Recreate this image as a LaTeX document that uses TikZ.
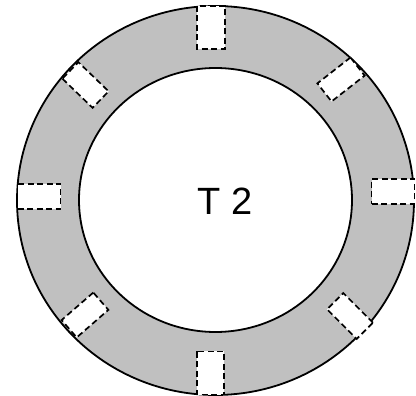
\documentclass[tikz,border=0pt]{standalone}
\usepackage{fontspec}
\setmainfont{Liberation Sans}
\usetikzlibrary{shapes.geometric}
\definecolor{ringgray}{HTML}{C0C0C0}
\tikzset{
  ringline/.style={draw=black, line width=1.8pt},
  slot/.style={rectangle, draw=black, fill=white, line width=1.7pt,
    dash pattern=on 6pt off 3.5pt, minimum width=43pt, minimum height=25pt,
    inner sep=0pt, outer sep=0pt},
}
\begin{document}
\begin{tikzpicture}[x=1pt,y=-1pt]
\useasboundingbox (0,0) rectangle (416,396);
\node[ellipse, ringline, fill=ringgray, minimum width=397pt, minimum height=389pt, inner sep=0pt] (outer) at (215.5,200.5) {};
\node[ellipse, ringline, fill=white, minimum width=273pt, minimum height=264pt, inner sep=0pt] (inner) at (215.5,200) {};
\node[slot, minimum height=28pt, rotate=90] (s1) at (211,27.5) {};
\node[slot, minimum height=27pt, rotate=90] (s2) at (210.5,373) {};
\node[slot] (s3) at (39,196.5) {};
\node[slot] (s4) at (393,191.5) {};
\node[slot, minimum width=42pt, minimum height=23pt, rotate=136] (s5) at (85.5,85) {};
\node[slot, minimum width=42pt, minimum height=23pt, rotate=38] (s6) at (341,79.5) {};
\node[slot, minimum width=42pt, minimum height=23pt, rotate=41] (s7) at (85,315) {};
\node[slot, minimum width=42pt, minimum height=23pt, rotate=-45] (s8) at (350,316) {};
\node[font=\fontsize{38}{40}\selectfont, inner sep=0pt] (lbl) at (225,201.5) {T 2};
\end{tikzpicture}
\end{document}
